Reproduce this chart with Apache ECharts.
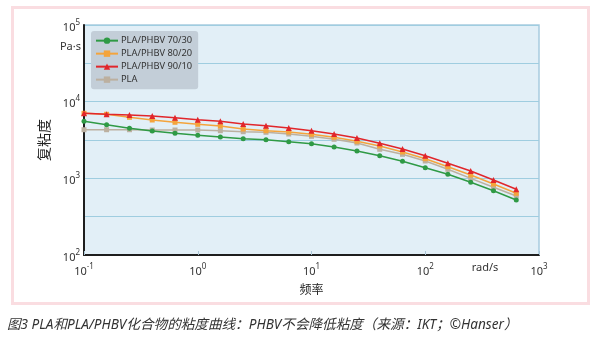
<!DOCTYPE html>
<html>
<head>
<meta charset="utf-8">
<script src="https://cdn.jsdelivr.net/npm/echarts@6/dist/echarts.min.js"></script>
<style>
html,body{margin:0;padding:0;background:#fff;}
#chart{width:599px;height:340px;}
</style>
</head>
<body>
<div id="chart"></div>
<script>
// Frequency (rad/s)
const frequency = [0.1, 0.158, 0.251, 0.398, 0.631, 1, 1.58, 2.51, 3.98, 6.31, 10, 15.8, 25.1, 39.8, 63.1, 100, 158, 251, 398, 631];
// Complex viscosity (Pa·s)
const pla7030 = [5545, 5010, 4495, 4143, 3867, 3640, 3461, 3288, 3190, 3005, 2830, 2563, 2270, 1973, 1667, 1377, 1129, 887, 690, 522];
const pla8020 = [7047, 6845, 6250, 5765, 5380, 5067, 4817, 4397, 4180, 4020, 3750, 3428, 3040, 2641, 2205, 1803, 1419, 1105, 843, 638];
const pla9010 = [7047, 6845, 6700, 6500, 6180, 5820, 5545, 5115, 4855, 4530, 4180, 3785, 3357, 2864, 2414, 1973, 1570, 1247, 951, 719];
const plaPure = [4306, 4306, 4306, 4270, 4270, 4270, 4180, 4055, 3985, 3785, 3533, 3228, 2890, 2392, 2057, 1683, 1312, 1000, 764, 589];
const seriesNames = ['PLA/PHBV 70/30', 'PLA/PHBV 80/20', 'PLA/PHBV 90/10', 'PLA'];
const xAxisName = '频率';
const yAxisName = '复粘度';
const caption = '图3 PLA和PLA/PHBV化合物的粘度曲线：PHBV不会降低粘度（来源：IKT；©Hanser）';

const FONT = '"Noto Sans", "Noto Sans CJK SC", sans-serif';
const pair = (xs, ys) => xs.map((x, i) => [x, ys[i]]);
const supLabel = (v) => {
  const e = Math.log10(v);
  const r = Math.round(e);
  if (Math.abs(e - r) > 1e-6) return '';
  return '{b|10}{s|' + r + '}';
};
const rich = {
  b: {fontSize: 11, color: '#333', fontFamily: FONT, padding: [5, 0, 0, 0]},
  s: {fontSize: 8, color: '#333', fontFamily: FONT, padding: [0, 0, 5, 0]}
};

const chart = echarts.init(document.getElementById('chart'), null, {renderer: 'canvas'});
const colors = ['#2f9a45', '#f4a43c', '#e1262b', '#bcb0a0'];
const symbols = ['circle', 'rect', 'triangle', 'rect'];
const datasets = [pla7030, pla8020, pla9010, plaPure];
const zs = [3, 4, 5, 2];

chart.setOption({
  animation: false,
  textStyle: {fontFamily: FONT},
  grid: {
    left: 84, right: 60, top: 25, bottom: 85,
    show: true, backgroundColor: '#e2eff7', borderColor: '#a8cbe0', borderWidth: 1.5
  },
  legend: {
    orient: 'vertical', left: 91, top: 31,
    backgroundColor: '#c3ced8', borderRadius: 3,
    padding: [5, 6, 5, 4], itemGap: 3.7, itemWidth: 22, itemHeight: 8,
    textStyle: {fontSize: 9.3, color: '#333', fontFamily: FONT, padding: [0, 0, 0, -2]},
    data: seriesNames
  },
  xAxis: {
    type: 'log', logBase: 10, min: 0.1, max: 1000,
    name: xAxisName, nameLocation: 'middle', nameGap: 30,
    nameTextStyle: {fontSize: 12, color: '#222', fontFamily: FONT},
    axisLine: {show: true, lineStyle: {color: '#1e1e1e', width: 2}},
    axisTick: {show: true, inside: true, length: 4, lineStyle: {color: '#aac4d4', width: 1}},
    axisLabel: {formatter: supLabel, rich: rich, margin: 6},
    splitLine: {show: false},
    minorTick: {show: false}
  },
  yAxis: {
    type: 'log', logBase: Math.sqrt(10), min: 100, max: 100000,
    name: yAxisName, nameLocation: 'middle', nameGap: 27, nameRotate: 90,
    nameTextStyle: {fontSize: 14, color: '#222', fontFamily: FONT},
    axisLine: {show: true, lineStyle: {color: '#1e1e1e', width: 2}},
    axisTick: {show: false},
    axisLabel: {formatter: supLabel, rich: rich, margin: 4},
    splitLine: {show: true, lineStyle: {color: '#9fcde0', width: 1}}
  },
  graphic: [
    {type: 'rect', left: 10, top: 5, shape: {width: 576, height: 296},
     style: {fill: 'none', stroke: '#fadde1', lineWidth: 3}, silent: true},
    {type: 'text', x: 81, y: 47, style: {text: 'Pa·s', fontSize: 11, fill: '#333', fontFamily: FONT, align: 'right', verticalAlign: 'middle'}},
    {type: 'text', x: 485, y: 268, style: {text: 'rad/s', fontSize: 11, fill: '#333', fontFamily: FONT, align: 'center', verticalAlign: 'middle'}},
    {type: 'text', x: 7, y: 325, style: {text: caption, fontSize: 13.6, fill: '#333', fontFamily: FONT, fontStyle: 'italic', align: 'left', verticalAlign: 'middle'}}
  ],
  series: seriesNames.map((name, i) => ({
    name: name, type: 'line', data: pair(frequency, datasets[i]),
    z: zs[i],
    symbol: symbols[i], symbolSize: i === 2 ? 6 : 5, showSymbol: true,
    itemStyle: {color: colors[i]},
    lineStyle: {color: colors[i], width: 1.5}
  }))
});
</script>
</body>
</html>
